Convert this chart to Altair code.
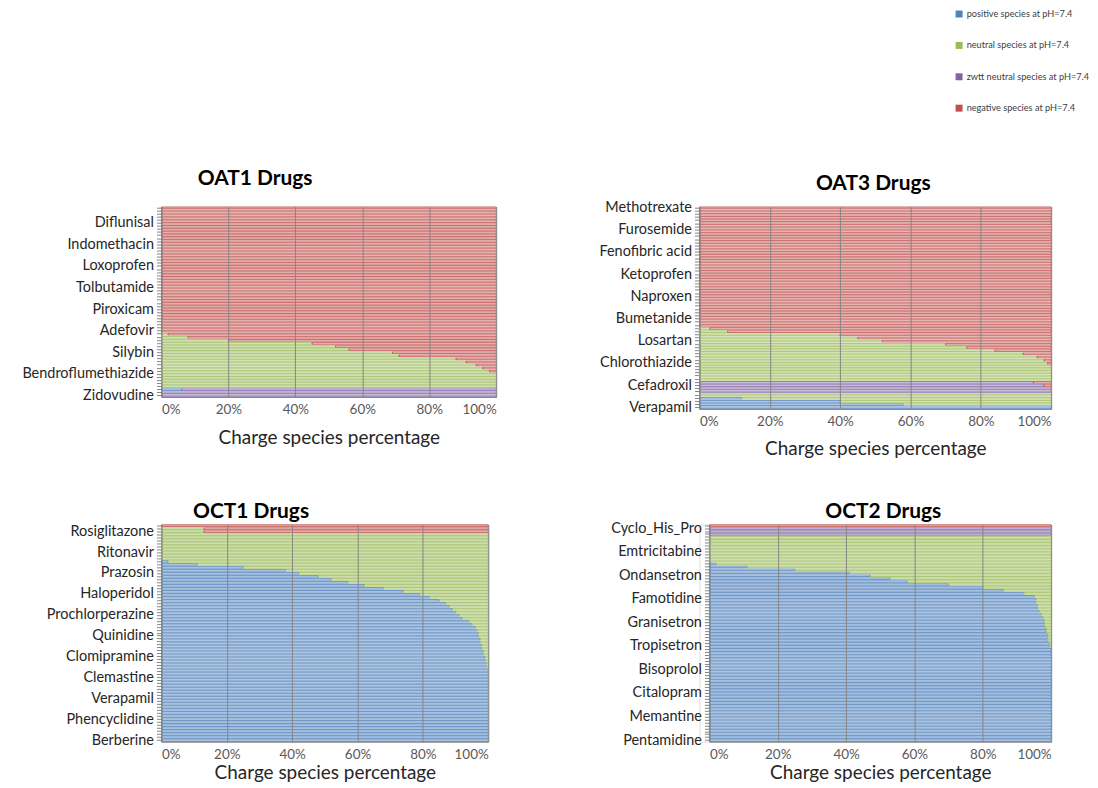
import altair as alt
import pandas as pd

SPECIES = ["positive species at pH=7.4", "neutral species at pH=7.4",
           "zwtt neutral species at pH=7.4", "negative species at pH=7.4"]
COLORS = ["#4F81BD", "#9BBB59", "#8064A2", "#C0504D"]
FONT = "Lato"

# ---- OAT1 Drugs (index 0 = bottom bar), 62 drugs, every 7th labelled
oat1_labels = ["Zidovudine", "Bendroflumethiazide", "Silybin", "Adefovir", "Piroxicam",
               "Tolbutamide", "Loxoprofen", "Indomethacin", "Diflunisal"]
oat1_step = 7
oat1_pos = [0, 0, 6] + [0] * 59
oat1_neu = [0, 0, 0, 100, 100, 100, 100, 100, 98, 96, 94, 91, 88, 71, 69, 56, 52, 45, 20, 8, 2] + [0] * 41
oat1_zw = [100, 100, 94] + [0] * 59
oat1_neg = [0, 0, 0, 0, 0, 0, 0, 0, 2, 4, 6, 9, 12, 29, 31, 44, 48, 55, 80, 92, 98] + [100] * 41

# ---- OAT3 Drugs, 64 drugs, every 7th labelled
oat3_labels = ["Verapamil", "Cefadroxil", "Chlorothiazide", "Losartan", "Bumetanide",
               "Naproxen", "Ketoprofen", "Fenofibric acid", "Furosemide", "Methotrexate"]
oat3_step = 7
oat3_pos = [100, 58, 40, 12] + [0] * 60
oat3_neu = [0, 42, 60, 88, 100, 0, 0, 0, 0, 100, 100, 100, 100, 100, 99, 98, 96, 92, 84, 76,
            70, 52, 45, 40, 8, 3] + [0] * 38
oat3_zw = [0, 0, 0, 0, 0, 100, 100, 98, 95] + [0] * 55
oat3_neg = [0, 0, 0, 0, 0, 0, 0, 2, 5, 0, 0, 0, 0, 0, 1, 2, 4, 8, 16, 24,
            30, 48, 55, 60, 92, 97] + [100] * 38

# ---- OCT1 Drugs, 73 drugs, every 7th labelled
oct1_labels = ["Berberine", "Phencyclidine", "Verapamil", "Clemastine", "Clomipramine",
               "Quinidine", "Prochlorperazine", "Haloperidol", "Prazosin", "Ritonavir",
               "Rosiglitazone"]
oct1_step = 7
oct1_pos = [100] * 25 + [99.5, 99.5, 99, 99, 98.5, 98.5, 98, 98, 97.5, 97.5, 97, 97, 96.5, 96,
                         95, 94, 92, 91, 90, 89, 88, 87, 85, 82, 79, 74, 68, 62, 57, 52, 48,
                         42, 38, 25, 11, 2] + [0] * 12
oct1_neu = [0] * 25 + [0.5, 0.5, 1, 1, 1.5, 1.5, 2, 2, 2.5, 2.5, 3, 3, 3.5, 4, 5, 6, 8, 9, 10,
                       11, 12, 13, 15, 18, 21, 26, 32, 38, 43, 48, 52, 58, 62, 75, 89, 98] \
    + [100] * 9 + [13, 13, 0]
oct1_zw = [0] * 73
oct1_neg = [0] * 70 + [87, 87, 100]

# ---- OCT2 Drugs, 74 drugs, every 8th labelled
oct2_labels = ["Pentamidine", "Memantine", "Citalopram", "Bisoprolol", "Tropisetron",
               "Granisetron", "Famotidine", "Ondansetron", "Emtricitabine", "Cyclo_His_Pro"]
oct2_step = 8
oct2_pos = [100] * 32 + [99.5, 99.5, 99, 99, 99, 98.5, 98.5, 98, 98, 98, 97.5, 97, 96.5, 96, 96,
                         95.5, 95.5, 95, 92, 86, 80, 70, 58, 53, 47, 41, 25, 11, 2] + [0] * 13
oct2_neu = [0] * 32 + [0.5, 0.5, 1, 1, 1, 1.5, 1.5, 2, 2, 2, 2.5, 3, 3.5, 4, 4, 4.5, 4.5, 5, 8,
                       14, 20, 30, 42, 47, 53, 59, 75, 89, 98] + [100] * 9 + [0, 0, 0, 0]
oct2_zw = [0] * 70 + [100, 100, 100, 0]
oct2_neg = [0] * 73 + [100]


def to_frame(pos, neu, zw, neg):
    recs = []
    for i, vals in enumerate(zip(pos, neu, zw, neg)):
        for k, v in enumerate(vals):
            if v > 0:
                recs.append({"idx": i, "species": SPECIES[k], "k": k, "value": v})
    return pd.DataFrame(recs)


def label_expr(labels, step):
    expr = "''"
    for j in range(len(labels) - 1, -1, -1):
        expr = f"datum.value == {j * step} ? '{labels[j]}' : " + expr
    return expr


LEGEND = alt.Legend(title=None, orient="none", legendX=796, legendY=-198, direction="vertical",
                    symbolType="square", symbolSize=49, symbolStrokeWidth=0, symbolOpacity=1,
                    labelFont=FONT, labelFontSize=9.2, labelColor="#404040", labelOffset=3,
                    rowPadding=21.5, padding=0)


def panel(df, labels, step, title, width, height, tdx, toff, tdy, xty, xrange=None, yoff=0):
    xscale = alt.Scale(domain=[0, 1]) if xrange is None else alt.Scale(domain=[0, 1], range=xrange)
    return alt.Chart(df).mark_bar(fillOpacity=0.3, strokeWidth=0.8, strokeOpacity=1).encode(
        y=alt.Y("idx:O", sort="descending",
                scale=alt.Scale(paddingInner=0.45, paddingOuter=0.1),
                axis=alt.Axis(title=None, labelExpr=label_expr(labels, step), labelOverlap=False,
                              ticks=True, tickSize=5, tickColor="#868686", domainColor="#868686",
                              labelFont=FONT, labelFontSize=14.5, labelColor="#262626",
                              labelPadding=3, grid=False, offset=yoff)),
        x=alt.X("value:Q", stack="normalize", scale=xscale,
                axis=alt.Axis(format=".0%", values=[0, 0.2, 0.4, 0.6, 0.8, 1], grid=True,
                              gridColor="#868686", gridWidth=1, ticks=False, domainColor="#868686",
                              labelFont=FONT, labelFontSize=13.5, labelColor="#595959",
                              labelPadding=6,
                              title="Charge species percentage", titleFont=FONT,
                              titleFontSize=19, titleFontWeight="normal", titleColor="#262626",
                              titleY=xty, titleBaseline="middle", zindex=1)),
        color=alt.Color("species:N", scale=alt.Scale(domain=SPECIES, range=COLORS), legend=LEGEND),
        stroke=alt.Stroke("species:N", scale=alt.Scale(domain=SPECIES, range=COLORS), legend=None),
        order=alt.Order("k:Q"),
    ).properties(
        width=width, height=height,
        title=alt.TitleParams(title, font=FONT, fontSize=21, fontWeight="bold", color="black",
                              anchor="middle", frame="group", dx=tdx, dy=tdy, offset=toff,
                              baseline="alphabetic"),
    )


p1 = panel(to_frame(oat1_pos, oat1_neu, oat1_zw, oat1_neg), oat1_labels, oat1_step,
           "OAT1 Drugs", 336, 191, -74, 18, 25, 41)
p2 = panel(to_frame(oat3_pos, oat3_neu, oat3_zw, oat3_neg), oat3_labels, oat3_step,
           "OAT3 Drugs", 353, 203, -2, 8, 20, 40)
p3 = panel(to_frame(oct1_pos, oct1_neu, oct1_zw, oct1_neg), oct1_labels, oct1_step,
           "OCT1 Drugs", 328, 218, -74, 8, 30, 31)
p4 = panel(to_frame(oct2_pos, oct2_neu, oct2_zw, oct2_neg), oct2_labels, oct2_step,
           "OCT2 Drugs", 353, 218, 8, 6, 28, 31, xrange=[10, 353], yoff=-10)

chart = alt.concat(p1, p2, p3, p4, columns=2, spacing={"row": 101, "column": 187},
                   bounds="flush", align="all").properties(
    padding={"left": 13, "top": 0, "right": 0, "bottom": 0}
).configure_view(strokeWidth=0).configure(font=FONT)

chart.save("out.html", embed_options={"renderer": "svg", "actions": False})
